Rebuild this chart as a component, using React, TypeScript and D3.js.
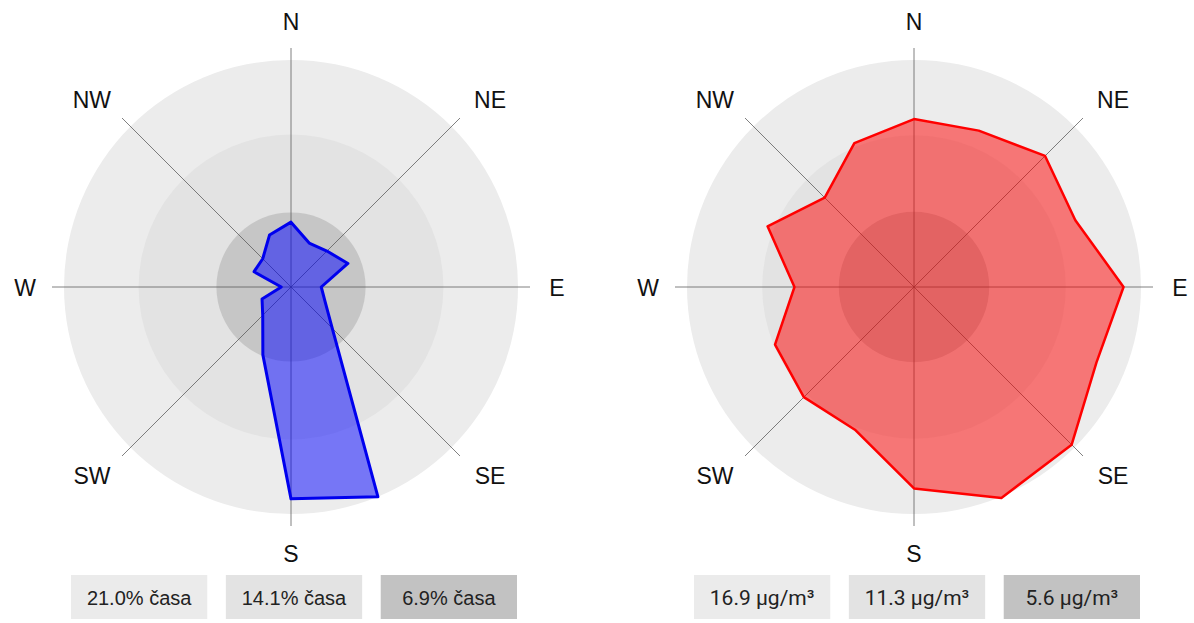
import React from "react";
import * as d3 from "d3";

// 16 wind directions, clockwise from north
const directions = ["N", "NNE", "NE", "ENE", "E", "ESE", "SE", "SSE", "S", "SSW", "SW", "WSW", "W", "WNW", "NW", "NNW"];
const compassLabels = ["N", "NE", "E", "SE", "S", "SW", "W", "NW"];

// share of time per direction (%)
const timeShare = [6.0, 4.4, 4.7, 5.7, 2.8, 3.4, 5.4, 21.0, 19.6, 6.8, 3.7, 2.9, 0.9, 3.7, 3.7, 5.2];
const timeRings = [21.0, 14.1, 6.9];
const timeRingLabels = ["21.0% časa", "14.1% časa", "6.9% časa"];

// mean concentration per direction (µg/m³)
const concentration = [12.5, 12.6, 13.8, 13.0, 15.6, 14.7, 16.6, 17.0, 15.0, 11.5, 11.6, 11.2, 8.9, 11.8, 9.4, 11.6];
const concRings = [16.9, 11.3, 5.6];
const concRingLabels = ["16.9 µg/m³", "11.3 µg/m³", "5.6 µg/m³"];

const ringColors = ["#ececec", "#e3e3e3", "#c6c6c6"];
const boxColors = ["#ebebeb", "#e3e3e3", "#c2c2c2"];

const W = 1194;
const H = 623;
const cy = 287;
const outerR = 227;
const axisR = 239;

type RoseProps = {
  cx: number;
  values: number[];
  rings: number[];
  ringLabels: string[];
  fill: string;
  stroke: string;
  strokeWidth: number;
  legendFont: string;
  legendSize: number;
};

function Rose({ cx, values, rings, ringLabels, fill, stroke, strokeWidth, legendFont, legendSize }: RoseProps) {
  const r = d3.scaleLinear().domain([0, rings[0]]).range([0, outerR]);
  const angle = d3.scaleLinear().domain([0, directions.length]).range([0, 2 * Math.PI]);
  const line = d3
    .lineRadial<number>()
    .angle((_, i) => angle(i))
    .radius((d) => r(d))
    .curve(d3.curveLinearClosed);

  const box = d3.scaleBand<number>().domain([0, 1, 2]).range([cx - 223 + 3, cx + 223 + 3]).paddingInner(0.12);

  return (
    <g>
      <g transform={`translate(${cx},${cy})`}>
        {rings.map((v, i) => (
          <circle key={i} r={r(v)} fill={ringColors[i]} />
        ))}
        {compassLabels.map((lab, i) => {
          const a = (i * Math.PI) / 4;
          return (
            <line
              key={lab}
              x1={0}
              y1={0}
              x2={axisR * Math.sin(a)}
              y2={-axisR * Math.cos(a)}
              stroke="#555"
              strokeOpacity={0.75}
              strokeWidth={1}
            />
          );
        })}
        <path d={line(values) || ""} fill={fill} fillOpacity={0.5} stroke={stroke} strokeWidth={strokeWidth} strokeLinejoin="round" />
        {compassLabels.map((lab, i) => {
          const a = (i * Math.PI) / 4;
          const s = Math.sin(a);
          const extra = Math.abs(s) > 0.01 ? Math.sign(s) * (lab.length - 1) * 11 : 0;
          return (
            <text
              key={lab}
              x={266 * s + extra}
              y={-266 * Math.cos(a) + 1}
              textAnchor="middle"
              dominantBaseline="central"
              fontFamily="Arial, 'Liberation Sans', sans-serif"
              fontSize={23}
              fill="#111"
            >
              {lab}
            </text>
          );
        })}
      </g>
      {ringLabels.map((lab, i) => (
        <g key={lab} transform={`translate(${box(i)},575)`}>
          <rect width={box.bandwidth()} height={44} fill={boxColors[i]} />
          <text
            x={box.bandwidth() / 2}
            y={23}
            textAnchor="middle"
            dominantBaseline="central"
            fontFamily={legendFont}
            fontSize={legendSize}
            fill="#222"
          >
            {lab}
          </text>
        </g>
      ))}
    </g>
  );
}

export default function App() {
  return (
    <svg width={W} height={H} style={{ position: "absolute", left: 0, top: 0, display: "block" }}>
      <rect width={W} height={H} fill="#fff" />
      <Rose
        cx={291}
        values={timeShare}
        rings={timeRings}
        ringLabels={timeRingLabels}
        fill="#0000ff"
        stroke="#0000ee"
        strokeWidth={3}
        legendFont="Tahoma, 'Liberation Sans', Arial, sans-serif"
        legendSize={20}
      />
      <Rose
        cx={914}
        values={concentration}
        rings={concRings}
        ringLabels={concRingLabels}
        fill="#ff0000"
        stroke="#ff0000"
        strokeWidth={2.5}
        legendFont="Roboto, sans-serif"
        legendSize={21}
      />
    </svg>
  );
}
